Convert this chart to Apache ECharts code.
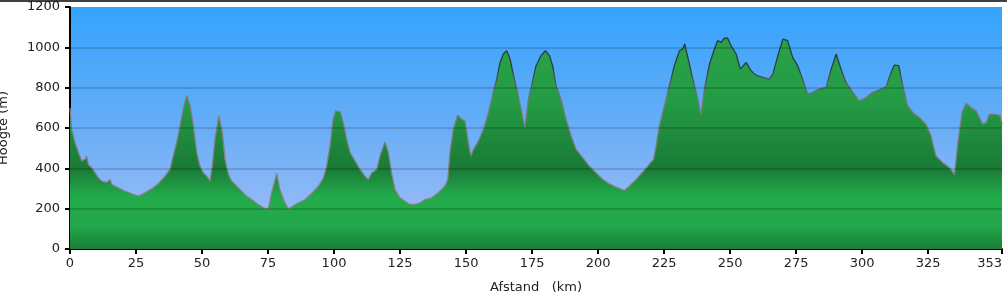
<!DOCTYPE html>
<html>
<head>
<meta charset="utf-8">
<script src="https://cdn.jsdelivr.net/npm/echarts@6/dist/echarts.min.js"></script>
<style>
html,body{margin:0;padding:0;background:#fff;}
#chart{width:1007px;height:298px;}
</style>
</head>
<body>
<div id="chart"></div>
<script>
var distanceKm = [0.0,0.6,1.9,3.2,4.4,5.7,6.3,6.9,8.2,9.5,10.7,12.0,13.9,15.2,15.8,18.3,20.8,23.4,25.9,28.4,30.9,33.5,36.0,37.9,39.1,40.4,41.7,42.9,44.2,45.5,46.7,48.0,49.2,50.5,51.8,53.0,53.9,54.9,56.4,57.7,58.7,60.0,61.2,63.1,65.0,66.9,68.8,71.3,73.2,75.1,76.4,78.3,79.5,81.4,82.7,84.0,86.5,89.0,91.5,94.1,96.0,97.2,98.5,99.7,100.6,102.3,103.5,104.8,106.1,108.0,109.8,111.7,113.0,114.3,116.2,117.4,119.3,120.6,121.8,123.1,125.0,126.9,128.8,130.7,132.6,134.5,137.0,139.5,142.0,143.1,143.9,145.2,146.8,148.4,149.6,150.9,151.8,152.8,154.7,156.6,158.5,159.7,161.6,162.9,164.1,165.4,166.7,168.0,169.8,171.1,172.3,173.6,174.8,176.5,178.4,180.1,181.6,182.8,184.1,186.0,187.9,189.8,191.7,194.2,196.7,199.2,201.8,204.3,206.8,210.0,211.9,214.4,216.9,219.4,221.0,222.0,223.2,225.1,227.0,228.9,230.8,232.1,232.8,234.0,235.9,237.8,239.0,240.3,242.2,244.1,245.3,246.6,247.8,249.1,250.4,252.3,253.9,256.1,258.0,259.8,262.4,264.9,266.2,268.1,270.0,271.8,273.7,275.6,277.5,279.4,281.3,283.8,286.4,288.3,290.2,292.0,293.9,296.5,299.0,301.5,304.0,306.6,309.1,311.0,312.2,313.9,315.4,317.3,319.2,321.7,324.2,326.1,328.0,330.6,333.1,335.0,336.3,337.9,339.4,341.3,343.2,345.7,347.0,348.2,350.8,352.3,353.0];
var elevationM = [700,594,527,478,436,445,461,420,403,378,353,337,330,345,320,303,287,274,262,279,298,325,361,395,461,527,610,693,760,710,610,478,411,378,361,337,411,544,660,577,444,370,337,312,287,262,245,221,204,199,279,375,295,229,199,209,229,245,275,312,353,411,511,643,685,680,627,544,478,436,395,361,345,378,395,461,531,478,378,295,254,237,221,221,229,245,254,279,312,345,478,594,663,643,635,527,461,494,536,594,677,743,842,925,967,983,942,859,760,677,602,743,809,909,959,983,959,909,809,743,643,561,494,453,411,378,345,323,307,290,312,345,381,420,444,511,610,710,809,909,983,992,1017,950,842,743,668,793,917,992,1033,1025,1045,1045,1008,967,892,925,884,862,851,842,867,959,1041,1033,950,909,842,768,776,793,801,892,967,892,826,776,735,751,776,789,806,876,912,909,809,710,677,652,619,561,461,428,403,370,527,677,723,701,685,619,627,668,668,660,619];
var xTickValues = [0,25,50,75,100,125,150,175,200,225,250,275,300,325,353];
var yTickValues = [0,200,400,600,800,1000,1200];
var gridLineValues = [200,400,600,800,1000];

var points = distanceKm.map(function(d,i){return [d, elevationM[i]];});
var G = echarts.graphic.LinearGradient;
var chart = echarts.init(document.getElementById('chart'), null, {renderer:'canvas'});
var fontFam = 'DejaVu Sans, Verdana, sans-serif';
chart.setOption({
  animation:false,
  backgroundColor:'#ffffff',
  grid:{left:70,right:5,top:7,bottom:49,show:true,borderWidth:0,containLabel:false,outerBoundsMode:'none',
    backgroundColor:new G(0,0,0,1,[{offset:0,color:'#35a4fc'},{offset:0.45,color:'#62acf7'},{offset:1,color:'#a9bff6'}])},
  xAxis:{type:'value',min:0,max:353,interval:25,
    name:'Afstand   (km)',nameLocation:'middle',nameGap:32,
    nameTextStyle:{fontFamily:fontFam,fontSize:13,color:'#222'},
    axisLine:{show:true,onZero:false,lineStyle:{color:'#000',width:2}},
    axisTick:{show:true,length:5,customValues:xTickValues,lineStyle:{color:'#000',width:2}},
    axisLabel:{customValues:xTickValues,fontFamily:fontFam,fontSize:13,color:'#222',margin:8,
      alignMaxLabel:'right',hideOverlap:false,
      formatter:function(v){return String(v);}},
    splitLine:{show:false}},
  yAxis:{type:'value',min:0,max:1200,interval:200,
    name:'Hoogte (m)',nameLocation:'middle',nameGap:60,nameRotate:90,
    nameTextStyle:{fontFamily:fontFam,fontSize:13,color:'#222'},
    axisLine:{show:true,lineStyle:{color:'#000',width:2}},
    axisTick:{show:true,length:5,customValues:yTickValues,lineStyle:{color:'#000',width:2}},
    axisLabel:{customValues:yTickValues,fontFamily:fontFam,fontSize:13,color:'#222',margin:10,
      formatter:function(v){return String(v);}},
    splitLine:{show:false}},
  graphic:[{type:'line',shape:{x1:0,y1:1,x2:1007,y2:1},style:{stroke:'#000',lineWidth:1.5},silent:true}],
  series:[{
    type:'line',data:points,symbol:'none',smooth:false,
    lineStyle:{width:1.3,color:{type:'linear',x:0,y:7,x2:0,y2:250,global:true,colorStops:[
      {offset:0,color:'#1f2f3a'},{offset:0.25,color:'#2e3d45'},{offset:0.38,color:'#7a7a7a'},{offset:1,color:'#8a8a8a'}]}},
    areaStyle:{opacity:1,color:{type:'linear',x:0,y:7,x2:0,y2:250,global:true,colorStops:[
      {offset:0,color:'#2aa44a'},{offset:0.38,color:'#249c45'},{offset:0.665,color:'#1a7a36'},
      {offset:0.78,color:'#22aa4b'},{offset:0.9,color:'#22a84a'},{offset:1,color:'#1a7c37'}]}},
    markLine:{silent:true,symbol:'none',animation:false,label:{show:false},
      lineStyle:{color:'rgba(0,0,0,0.2)',width:1.5,type:'solid'},
      data:gridLineValues.map(function(v){return {yAxis:v};})}
  }]
});
</script>
</body>
</html>
